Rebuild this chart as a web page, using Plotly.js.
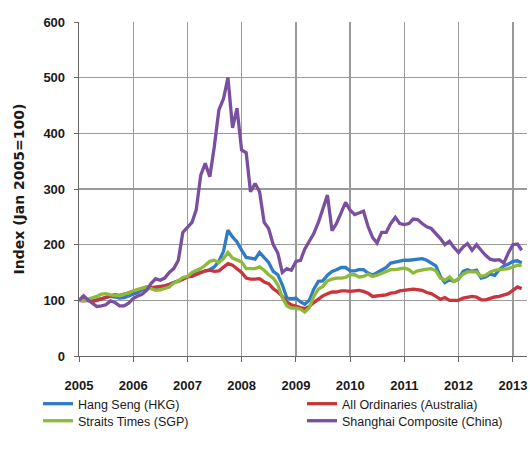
<!DOCTYPE html>
<html>
<head>
<meta charset="utf-8">
<script src="https://cdn.plot.ly/plotly-3.0.1.min.js"></script>
<style>html,body{margin:0;padding:0;background:#fff;}#chart{width:530px;height:459px;}</style>
</head>
<body>
<div id="chart"></div>
<script>
// Monthly index values, Jan 2005 = 100 (Jan 2005 .. Mar 2013)
const startYear = 2005;
const seriesNames = ["Hang Seng (HKG)", "All Ordinaries (Australia)", "Straits Times (SGP)", "Shanghai Composite (China)"];
const yearTicks = ["2005","2006","2007","2008","2009","2010","2011","2012","2013"];

const hangSeng = [100,102,100,99,101,103,105,107,106,104,105,108,
  110,114,119,121,122,123,124,126,129,132,136,139,
  142,146,148,150,153,155,160,170,188,226,214,205,
  190,177,176,174,186,177,168,152,146,128,104,103,
  104,97,93,100,120,134,135,145,152,155,159,159,
  153,153,155,155,149,145,150,155,159,167,169,170,
  172,172,173,174,175,172,167,162,143,132,137,134,
  138,152,155,152,154,140,142,147,145,155,162,165,
  170,171,167];
const allOrds = [100,99,100,98,100,103,106,108,110,109,111,113,
  116,119,121,124,123,124,124,126,128,132,134,138,
  142,143,146,149,153,154,152,153,160,166,163,157,
  150,140,138,138,139,133,130,121,115,107,97,92,
  89,87,85,89,96,103,108,112,115,115,117,117,
  116,117,118,116,113,107,108,109,110,113,114,117,
  118,119,120,119,118,114,112,107,102,105,100,100,
  100,104,106,107,106,101,101,104,106,107,109,112,
  118,124,121];
const straitsTimes = [100,99,102,104,107,111,112,110,109,108,111,113,
  117,119,122,124,121,118,119,121,124,131,135,141,
  143,150,154,157,163,170,172,168,175,186,176,173,
  169,157,157,157,160,154,146,140,128,105,90,86,
  86,84,79,87,107,120,125,135,138,140,140,141,
  146,146,142,143,147,143,145,148,152,155,155,156,
  158,155,149,153,155,156,157,153,140,136,142,134,
  139,147,151,151,151,143,145,151,154,155,156,157,
  160,163,163];
const shanghai = [100,108,101,95,89,90,92,99,96,90,90,95,
  103,108,111,118,130,139,136,140,150,157,172,222,
  232,240,262,325,346,322,376,442,462,500,410,445,
  370,365,295,310,295,240,229,200,185,150,157,154,
  170,172,192,205,220,240,265,289,225,238,257,276,
  262,254,257,260,233,213,203,222,222,238,249,238,
  236,238,246,245,238,232,229,220,211,200,206,195,
  186,196,202,190,200,190,181,174,172,173,167,185,
  200,201,190];

const colors = ["#2F7BC5", "#C8353A", "#8DBA3A", "#7A4FA0"];
const legendIds = ["legend", "legend2", "legend3", "legend4"];

function monthDates(n) {
  const out = [];
  for (let i = 0; i < n; i++) {
    const y = startYear + Math.floor(i / 12);
    const m = (i % 12) + 1;
    out.push(y + "-" + (m < 10 ? "0" + m : m) + "-01");
  }
  return out;
}

const allSeries = [hangSeng, allOrds, straitsTimes, shanghai];
const traces = allSeries.map((vals, i) => ({
  type: "scatter",
  mode: "lines",
  name: seriesNames[i],
  legend: legendIds[i],
  x: monthDates(vals.length),
  y: vals,
  line: {color: colors[i], width: 3.3},
  hoverinfo: "skip"
}));

const tickVals = yearTicks.map(y => y + "-01-01");
const tickFont = {family: "Liberation Sans, Arial, sans-serif", size: 13, color: "#1a1a1a", weight: "bold"};
const legendFont = {family: "Liberation Sans, Arial, sans-serif", size: 12.5, color: "#1a1a1a"};

function legendBox(xPaper, yPaper) {
  return {
    orientation: "h",
    x: xPaper,
    xanchor: "left",
    y: yPaper,
    yanchor: "top",
    itemwidth: 30,
    font: legendFont,
    bgcolor: "rgba(0,0,0,0)"
  };
}

const layout = {
  width: 530,
  height: 459,
  margin: {l: 79, r: 3, t: 22, b: 103},
  paper_bgcolor: "#ffffff",
  plot_bgcolor: "#ffffff",
  showlegend: true,
  font: {family: "Liberation Sans, Arial, sans-serif", size: 13, color: "#1a1a1a"},
  xaxis: {
    type: "date",
    range: ["2005-01-01", "2013-04-06"],
    tickmode: "array",
    tickvals: tickVals,
    ticktext: yearTicks,
    showgrid: true,
    gridcolor: "#9a9a9a",
    gridwidth: 1.3,
    showline: true,
    linecolor: "#666666",
    linewidth: 1.3,
    ticks: "outside",
    ticklen: 5,
    tickcolor: "#666666",
    ticklabelstandoff: 12,
    tickfont: tickFont,
    zeroline: false,
    automargin: false,
    fixedrange: true
  },
  yaxis: {
    range: [0, 600],
    tickmode: "linear",
    tick0: 0,
    dtick: 100,
    showgrid: true,
    gridcolor: "#9a9a9a",
    gridwidth: 1.3,
    showline: true,
    linecolor: "#666666",
    linewidth: 1.3,
    ticks: "outside",
    ticklen: 4,
    tickcolor: "#666666",
    ticklabelstandoff: 6,
    tickfont: tickFont,
    zeroline: false,
    automargin: false,
    fixedrange: true,
    title: {
      text: "Index (Jan 2005=100)",
      font: {family: "DejaVu Sans, Verdana, sans-serif", size: 14, color: "#1a1a1a", weight: "bold"},
      standoff: 15
    }
  },
  legend: legendBox(-0.0915, -0.099),
  legend2: legendBox(0.4978, -0.099),
  legend3: legendBox(-0.0915, -0.150),
  legend4: legendBox(0.4978, -0.150)
};

Plotly.newPlot("chart", traces, layout, {displayModeBar: false, staticPlot: true});
</script>
</body>
</html>
